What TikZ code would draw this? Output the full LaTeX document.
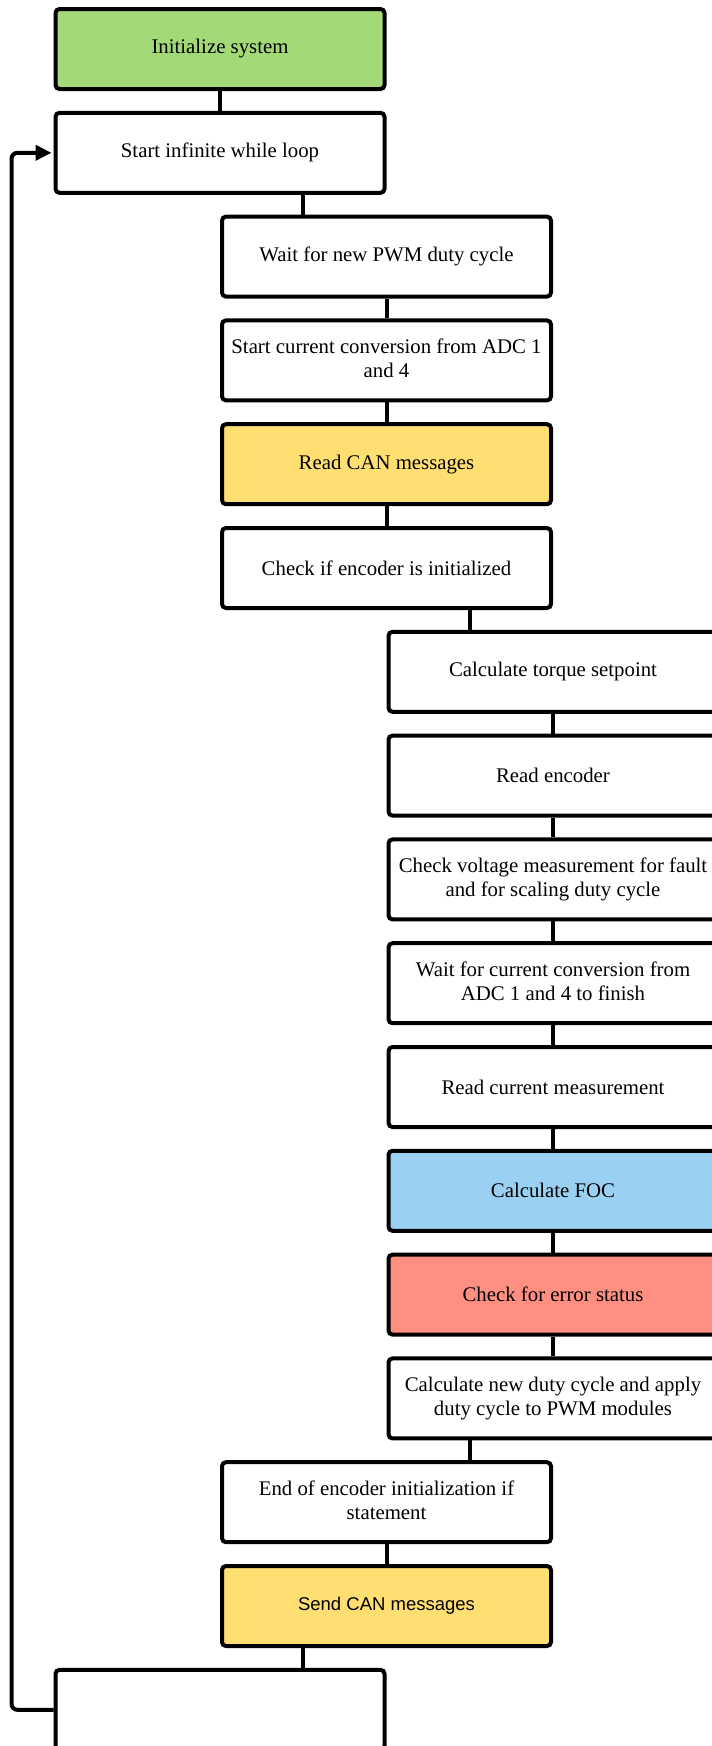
\documentclass[tikz,border=0pt]{standalone}
\usepackage{fontspec}
\setmainfont{Liberation Serif}
\newfontfamily\sansf{Liberation Sans}
\usetikzlibrary{arrows.meta,calc}
\definecolor{cgreen}{HTML}{A3D977}
\definecolor{cyellow}{HTML}{FFDF71}
\definecolor{cblue}{HTML}{9AD0F2}
\definecolor{cred}{HTML}{FF8F80}
\newcommand\mytwoline[2]{\raisebox{6pt}{\begin{tabular}{@{}c@{}}#1\\#2\end{tabular}}}
\begin{document}
\begin{tikzpicture}[x=1pt,y=-1pt,
  box/.style={draw=black, line width=4pt, rounded corners=4pt, fill=white,
    minimum width=329pt, minimum height=80pt, inner sep=0pt, align=center,
    font=\fontsize{20.8}{24}\selectfont},
  link/.style={draw=black, line width=4pt},
]
\useasboundingbox (0,0) rectangle (712,1746);
\clip (0,0) rectangle (712,1746);
% columns: 220, 386.5, 553 ; rows: 49 + 103.8 i
\node[box, fill=cgreen] (init) at (220,49) {Initialize system};
\node[box] (start) at (220,152.8) {Start infinite while loop};
\node[box] (wait) at (386.5,256.6) {Wait for new PWM duty cycle};
\node[box] (cur) at (386.5,360.4) {\mytwoline{Start current conversion from ADC 1}{and 4}};
\node[box, fill=cyellow] (rcan) at (386.5,464.2) {Read CAN messages};
\node[box] (chk) at (386.5,568) {Check if encoder is initialized};
\node[box] (torq) at (553,671.8) {Calculate torque setpoint};
\node[box] (renc) at (553,775.6) {Read encoder};
\node[box] (volt) at (553,879.4) {\mytwoline{Check voltage measurement for fault}{and for scaling duty cycle}};
\node[box] (wcur) at (553,983.2) {\mytwoline{Wait for current conversion from}{ADC 1 and 4 to finish}};
\node[box] (rcur) at (553,1087) {Read current measurement};
\node[box, fill=cblue] (foc) at (553,1190.8) {Calculate FOC};
\node[box, fill=cred] (err) at (553,1294.6) {Check for error status};
\node[box] (duty) at (553,1398.4) {\mytwoline{Calculate new duty cycle and apply}{duty cycle to PWM modules}};
\node[box] (endenc) at (386.5,1502.2) {\mytwoline{End of encoder initialization if}{statement}};
\node[box, fill=cyellow, font=\sansf\fontsize{18.5}{22}\selectfont] (scan) at (386.5,1606) {Send CAN messages};
\node[box] (last) at (220,1709.8) {};
% shifted connector positions
\coordinate (m1) at ($(start.south east)!0.5!(wait.north west)$);
\coordinate (m2) at ($(chk.south east)!0.5!(torq.north west)$);
\coordinate (m3) at ($(duty.south west)!0.5!(endenc.north east)$);
\coordinate (m4) at ($(scan.south west)!0.5!(last.north east)$);
% connectors
\draw[link] (init.south) -- (start.north);
\draw[link] (m1 |- start.south) -- (m1 |- wait.north);
\draw[link] (wait.south) -- (cur.north);
\draw[link] (cur.south) -- (rcan.north);
\draw[link] (rcan.south) -- (chk.north);
\draw[link] (m2 |- chk.south) -- (m2 |- torq.north);
\draw[link] (torq.south) -- (renc.north);
\draw[link] (renc.south) -- (volt.north);
\draw[link] (volt.south) -- (wcur.north);
\draw[link] (wcur.south) -- (rcur.north);
\draw[link] (rcur.south) -- (foc.north);
\draw[link] (foc.south) -- (err.north);
\draw[link] (err.south) -- (duty.north);
\draw[link] (m3 |- duty.south) -- (m3 |- endenc.north);
\draw[link] (endenc.south) -- (scan.north);
\draw[link] (m4 |- scan.south) -- (m4 |- last.north);
% loop back
\draw[link, rounded corners=6pt, -{Triangle[length=16pt,width=15pt]}, shorten >=2pt]
  (last.west) -- ++(-42,0) |- (start.west);
\end{tikzpicture}
\end{document}
